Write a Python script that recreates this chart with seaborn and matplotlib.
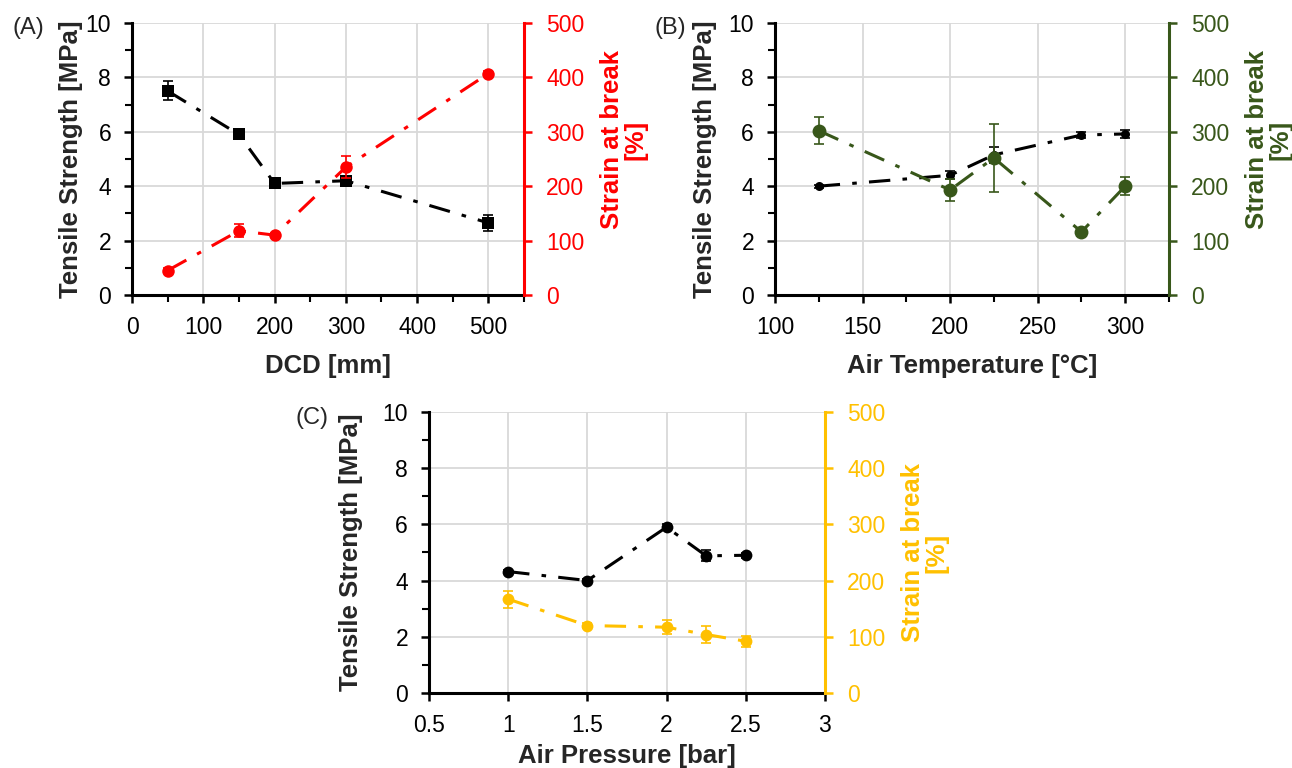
import matplotlib
matplotlib.use("Agg")
import matplotlib.pyplot as plt
import seaborn as sns
import pandas as pd
from matplotlib.ticker import MultipleLocator, NullLocator, FormatStrFormatter

# (A) die-to-collector distance
dcd_mm = [50, 150, 200, 300, 500]
dcd_strength = [7.5, 5.9, 4.1, 4.2, 2.65]
dcd_strength_err = [0.35, 0.1, 0.08, 0.08, 0.3]
dcd_strain = [45, 118, 110, 235, 407]
dcd_strain_err = [4, 12, 4, 20, 4]

# (B) air temperature
temp_c = [125, 200, 225, 275, 300]
temp_strength = [4.0, 4.4, 5.15, 5.88, 5.92]
temp_strength_err = [0.05, 0.15, 0.3, 0.1, 0.15]
temp_strain = [302, 193, 252, 116, 200]
temp_strain_err = [25, 20, 62, 8, 17]

# (C) air pressure
pressure_bar = [1.0, 1.5, 2.0, 2.25, 2.5]
pressure_strength = [4.32, 4.0, 5.9, 4.88, 4.9]
pressure_strength_err = [0.05, 0.05, 0.1, 0.2, 0.08]
pressure_strain = [167, 120, 117, 104, 92]
pressure_strain_err = [15, 5, 12, 15, 10]

RED = "#FF0000"
GREEN = "#38571A"
YELLOW = "#FFC000"
GRID = "#D9D9D9"
DASHDOT = (0, (7, 4, 1.5, 4))

sns.set_theme(style="ticks")
plt.rcParams["font.family"] = ["Liberation Sans", "DejaVu Sans"]

fig = plt.figure(figsize=(12.92, 7.68), dpi=100)

TICK_FS = 16.5
LABEL_FS = 18.5


def panel(rect, x, ts, ts_err, st, st_err, color, ts_marker, ts_ms, st_ms,
          xlim, xmajor, xminor, xlabel, tag, tag_x, xlabelpad, ylabelpad,
          y2_center):
    ax = fig.add_axes(rect)
    ax2 = ax.twinx()

    df_ts = pd.DataFrame({"x": x, "y": ts})
    df_st = pd.DataFrame({"x": x, "y": st})

    # tensile strength (left axis, black)
    sns.lineplot(data=df_ts, x="x", y="y", ax=ax, color="black",
                 linestyle=DASHDOT, linewidth=2.2, marker=ts_marker,
                 markersize=ts_ms, markeredgewidth=0, errorbar=None, zorder=3)
    ax.errorbar(x, ts, yerr=ts_err, fmt="none", ecolor="black",
                elinewidth=1.2, capsize=3.5, capthick=1.2, zorder=3)

    # strain at break (right axis, coloured)
    sns.lineplot(data=df_st, x="x", y="y", ax=ax2, color=color,
                 linestyle=DASHDOT, linewidth=2.2, marker="o",
                 markersize=st_ms, markeredgewidth=0, errorbar=None, zorder=3)
    ax2.errorbar(x, st, yerr=st_err, fmt="none", ecolor=color,
                 elinewidth=1.2, capsize=3.5, capthick=1.2, zorder=3)

    ax.set_xlim(*xlim)
    ax.set_ylim(0, 10)
    ax2.set_ylim(0, 500)
    ax.xaxis.set_major_locator(MultipleLocator(xmajor))
    ax.xaxis.set_major_formatter(FormatStrFormatter("%g"))
    if xminor:
        ax.xaxis.set_minor_locator(MultipleLocator(xminor))
    else:
        ax.xaxis.set_minor_locator(NullLocator())
    ax.yaxis.set_major_locator(MultipleLocator(2))
    ax.yaxis.set_minor_locator(MultipleLocator(1))
    ax2.yaxis.set_major_locator(MultipleLocator(100))
    ax2.yaxis.set_minor_locator(NullLocator())

    ax.grid(True, which="major", color=GRID, linewidth=1.3)
    ax.set_axisbelow(True)

    for s in ("top", "right"):
        ax.spines[s].set_visible(False)
    for s in ("top", "left", "bottom"):
        ax2.spines[s].set_visible(False)
    for s in ("left", "bottom"):
        ax.spines[s].set_linewidth(2.2)
        ax.spines[s].set_color("black")
    ax2.spines["right"].set_linewidth(2.2)
    ax2.spines["right"].set_color(color)

    ax.tick_params(axis="both", which="major", length=6, width=1.8,
                   direction="out", labelsize=TICK_FS, colors="black", pad=9)
    ax.tick_params(axis="both", which="minor", length=5, width=1.5,
                   direction="out", colors="black")
    ax2.tick_params(axis="y", which="major", length=6, width=1.8,
                    direction="out", labelsize=TICK_FS, colors=color, pad=10)

    ax.set_xlabel(xlabel, fontsize=LABEL_FS, fontweight="bold",
                  labelpad=xlabelpad)
    ax.set_ylabel("Tensile Strength [MPa]", fontsize=LABEL_FS,
                  fontweight="bold", labelpad=ylabelpad)
    ax2.set_ylabel("Strain at break\n[%]", fontsize=LABEL_FS,
                   fontweight="bold", color=color, labelpad=11,
                   linespacing=1.0)
    ax2.yaxis.label.set_y(y2_center)
    ax.text(tag_x, 0.98, tag, transform=ax.transAxes, fontsize=17,
            ha="left", va="center")
    return ax, ax2


panel([0.1022, 0.6159, 0.3034, 0.3542], dcd_mm, dcd_strength,
      dcd_strength_err, dcd_strain, dcd_strain_err, RED, "s", 9, 9,
      (0, 550), 100, 50, "DCD [mm]", "(A)", -0.306, 11, 2, 0.57)

panel([0.5998, 0.6159, 0.3050, 0.3542], temp_c, temp_strength,
      temp_strength_err, temp_strain, temp_strain_err, GREEN, "o", 6.5, 10,
      (100, 325), 50, 25, "Air Temperature [°C]", "(B)", -0.305, 11, 8,
      0.57)

panel([0.3320, 0.0977, 0.3065, 0.3659], pressure_bar, pressure_strength,
      pressure_strength_err, pressure_strain, pressure_strain_err, YELLOW,
      "o", 8.5, 8.5, (0.5, 3.0), 0.5, None, "Air Pressure [bar]", "(C)",
      -0.338, 5, 14, 0.5)

fig.savefig("out.png", dpi=100)
